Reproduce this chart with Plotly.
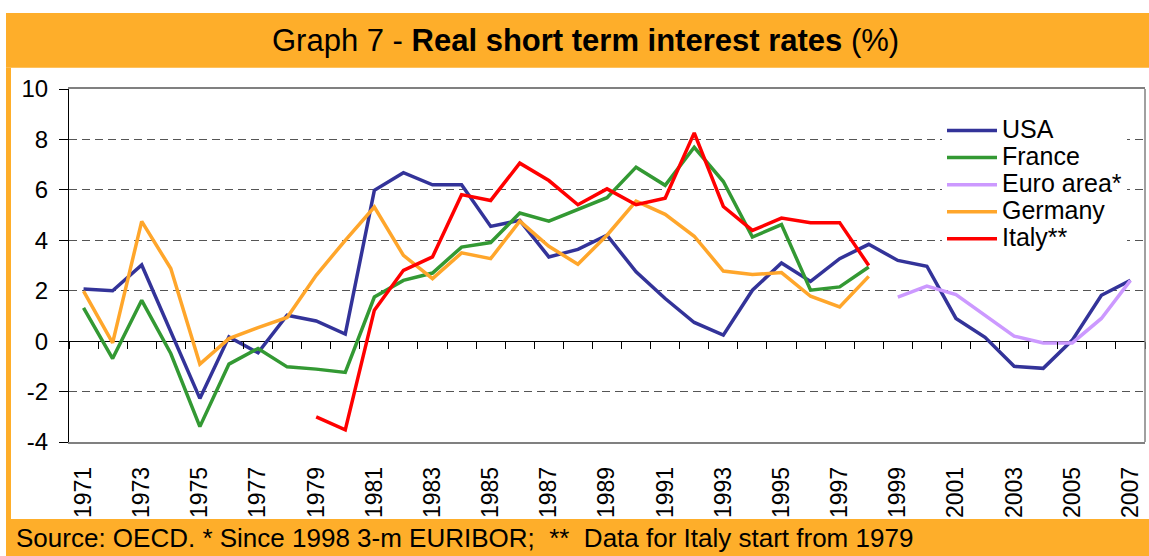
import plotly.graph_objects as go

years = [str(y) for y in range(1971, 2008)]
tick_years = [str(y) for y in range(1971, 2008, 2)]
y_ticks = [-4, -2, 0, 2, 4, 6, 8, 10]
y_ticktext = ["-4", "-2", "0", "2", "4", "6", "8", "10"]

usa = [2.07, 2.0, 3.02, 0.35, -2.27, 0.17, -0.46, 1.03, 0.8, 0.28,
       5.98, 6.68, 6.2, 6.2, 4.55, 4.79, 3.34, 3.64, 4.2, 2.75,
       1.69, 0.74, 0.24, 2.02, 3.1, 2.37, 3.27, 3.84, 3.2, 2.97,
       0.9, 0.15, -1.0, -1.08, 0.04, 1.82, 2.41]
france = [1.32, -0.69, 1.62, -0.49, -3.39, -0.91, -0.29, -1.02, -1.11, -1.24,
          1.75, 2.41, 2.7, 3.73, 3.91, 5.08, 4.76, 5.21, 5.69, 6.9,
          6.18, 7.69, 6.33, 4.13, 4.62, 2.02, 2.15, 2.94] + [None] * 9
euro = [None] * 28 + [1.75, 2.18, 1.85, 1.03, 0.2, -0.07, -0.07, 0.9, 2.41]
germany = [1.98, -0.07, 4.75, 2.88, -0.91, 0.1, 0.54, 0.94, 2.61, 4.0,
           5.32, 3.4, 2.48, 3.5, 3.27, 4.76, 3.76, 3.05, 4.2, 5.55,
           5.03, 4.16, 2.78, 2.64, 2.72, 1.78, 1.36, 2.57] + [None] * 9
italy = [None] * 8 + [-3.0, -3.52, 1.23, 2.81, 3.34, 5.81, 5.58, 7.06, 6.37,
                      5.41, 6.04, 5.41, 5.67, 8.26, 5.34, 4.39, 4.88, 4.7, 4.7,
                      3.0] + [None] * 9

names = ["USA", "France", "Euro area*", "Germany", "Italy**"]
values = [usa, france, euro, germany, italy]
colors = ["#333399", "#339933", "#CC99FF", "#FFA62B", "#FF0000"]

FONT = "Liberation Sans, Arial, sans-serif"
BAND = "#FEAE2A"

W, H = 1149, 556
ML, MR, MT, MB = 69, 4, 89, 114
PW = W - ML - MR
PH = H - MT - MB


def px_x(px):
    return (px - ML) / PW


def px_y(py):
    return (H - MB - py) / PH


fig = go.Figure()
for name, vals, col in zip(names, values, colors):
    fig.add_trace(go.Scatter(
        x=years, y=vals, mode="lines",
        name='<span style="font-size:25px">%s</span>' % name,
        hovertemplate=name + " %{x}: %{y}<extra></extra>",
        line=dict(color=col, width=3.5), connectgaps=False))

# helper trace for the tick axis drawn on the zero line
fig.add_trace(go.Scatter(x=years, y=[None] * len(years), xaxis="x2",
                         showlegend=False, hoverinfo="skip", mode="lines"))

ymin, ymax = -4, 10
zero_pos = (0 - ymin) / (ymax - ymin)

shapes = [
    dict(type="rect", xref="paper", yref="paper", x0=px_x(6), x1=px_x(1149),
         y0=px_y(67.7), y1=px_y(13), fillcolor=BAND, line_width=0, layer="below"),
    dict(type="rect", xref="paper", yref="paper", x0=px_x(6), x1=px_x(11),
         y0=px_y(519), y1=px_y(67.7), fillcolor=BAND, line_width=0, layer="below"),
    dict(type="rect", xref="paper", yref="paper", x0=px_x(6), x1=px_x(1149),
         y0=px_y(556), y1=px_y(519), fillcolor=BAND, line_width=0, layer="below"),
    dict(type="line", xref="paper", yref="paper", x0=1, x1=1, y0=0, y1=1,
         line=dict(color="#808080", width=1.5)),
]

annotations = [
    dict(text="Graph 7 - <b>Real short term interest rates</b> (%)",
         xref="paper", yref="paper", x=px_x(585), y=px_y(40.5),
         xanchor="center", yanchor="middle", showarrow=False,
         font=dict(family=FONT, size=31, color="black")),
    dict(text="Source: OECD. * Since 1998 3-m EURIBOR;&nbsp;&nbsp;**&nbsp;&nbsp;Data for Italy start from 1979",
         xref="paper", yref="paper", x=px_x(14), y=px_y(538),
         xanchor="left", yanchor="middle", showarrow=False,
         font=dict(family=FONT, size=26, color="black")),
]

fig.update_layout(
    width=W, height=H,
    margin=dict(l=ML, r=MR, t=MT, b=MB, pad=0),
    paper_bgcolor="white", plot_bgcolor="white",
    font=dict(family=FONT, size=24, color="black"),
    showlegend=True,
    legend=dict(x=px_x(942), y=px_y(112), xanchor="left", yanchor="top",
                bgcolor="white", borderwidth=0, itemwidth=50,
                font=dict(family=FONT, size=18.5, color="black"),
                tracegroupgap=0),
    xaxis=dict(type="category", categoryorder="array", categoryarray=years,
               range=[-0.5, len(years) - 0.5],
               tickmode="array", tickvals=tick_years, ticktext=tick_years,
               tickangle=-90, ticks="outside", ticklen=14,
               tickcolor="rgba(0,0,0,0)",
               showgrid=False, zeroline=False,
               showline=True, linecolor="#808080", linewidth=1.5, mirror=True,
               tickfont=dict(family=FONT, size=23, color="black")),
    xaxis2=dict(type="category", categoryorder="array", categoryarray=years,
                range=[-0.5, len(years) - 0.5], overlaying="x",
                anchor="free", position=zero_pos, side="bottom",
                ticks="outside", ticklen=7, tickcolor="black",
                tickson="boundaries", showticklabels=False,
                showgrid=False, zeroline=False, showline=False),
    yaxis=dict(range=[ymin, ymax], tickmode="array",
               tickvals=y_ticks, ticktext=y_ticktext,
               ticks="outside", ticklen=9, tickcolor="black",
               ticklabelstandoff=6,
               showline=True, linecolor="black", linewidth=1,
               showgrid=True, gridcolor="#555555", gridwidth=1,
               griddash="8px,5px",
               zeroline=True, zerolinecolor="black", zerolinewidth=1,
               tickfont=dict(family=FONT, size=24, color="black")),
    shapes=shapes,
    annotations=annotations,
)

fig.write_html("out.html", config={"displayModeBar": False},
               post_script="document.body.style.margin='0';document.body.style.overflow='hidden';")
